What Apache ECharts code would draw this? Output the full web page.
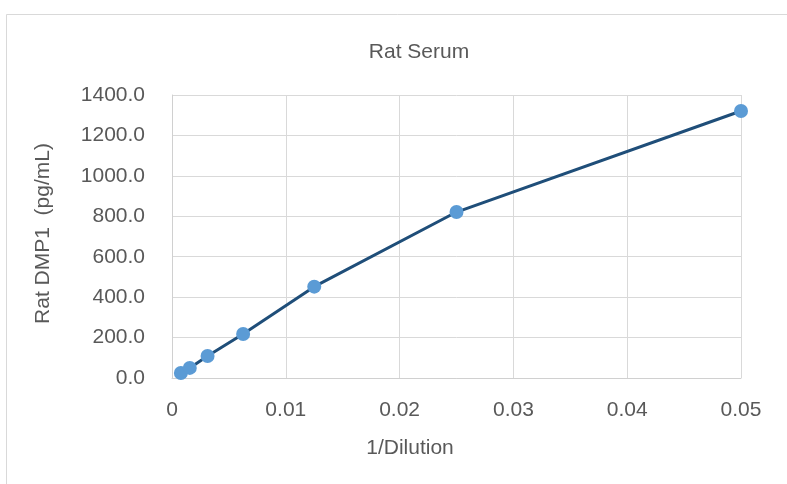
<!DOCTYPE html>
<html>
<head>
<meta charset="utf-8">
<script src="https://cdn.jsdelivr.net/npm/echarts@6/dist/echarts.min.js"></script>
<style>
html,body{margin:0;padding:0;background:#fff;}
#c{width:787px;height:484px;}
</style>
</head>
<body>
<div id="c"></div>
<script>
const dilutionX = [0.00078125, 0.0015625, 0.003125, 0.00625, 0.0125, 0.025, 0.05];
const dmp1Values = [25, 50, 109, 218, 452, 821, 1321];
const xTicks = [0, 0.01, 0.02, 0.03, 0.04, 0.05];
const yTicks = [0, 200, 400, 600, 800, 1000, 1200, 1400];

const FONT = 'Liberation Sans, Arial, sans-serif';
const chart = echarts.init(document.getElementById('c'), null, {renderer: 'canvas'});
chart.setOption({
  animation: false,
  backgroundColor: '#fff',
  title: [{
    text: 'Rat Serum',
    left: 414, top: 37,
    textAlign: 'center',
    textStyle: {fontFamily: FONT, fontSize: 21, fontWeight: 'normal', color: '#595959'}
  }, {
    text: '1/Dilution',
    left: 405, top: 433,
    textAlign: 'center',
    textStyle: {fontFamily: FONT, fontSize: 21, fontWeight: 'normal', color: '#595959'}
  }],
  graphic: [{
    type: 'rect', silent: true,
    shape: {x: 6.5, y: 14.5, width: 900, height: 600},
    style: {fill: 'none', stroke: '#d9d9d9', lineWidth: 1}
  }],
  grid: {left: 172, right: 46, top: 95, bottom: 106},
  xAxis: {
    type: 'value', min: 0, max: 0.05, interval: 0.01,
    axisLine: {show: true, lineStyle: {color: '#d0d0d0', width: 1}},
    axisTick: {show: false},
    axisLabel: {
      fontFamily: FONT, fontSize: 21, color: '#595959', margin: 22,
      formatter: v => xTicks.includes(+v.toFixed(2)) ? (v === 0 ? '0' : v.toFixed(2)) : ''
    },
    splitLine: {show: true, lineStyle: {color: '#d9d9d9', width: 1}}
  },
  yAxis: {
    type: 'value', min: 0, max: 1400, interval: 200,
    name: 'Rat DMP1  (pg/mL)', nameLocation: 'middle', nameGap: 118, nameRotate: 90,
    nameTextStyle: {fontFamily: FONT, fontSize: 21, color: '#595959', padding: [0, 0, 0, 6]},
    axisLine: {show: true, lineStyle: {color: '#d0d0d0', width: 1}},
    axisTick: {show: false},
    axisLabel: {
      fontFamily: FONT, fontSize: 21, color: '#595959', margin: 27,
      formatter: v => yTicks.includes(v) ? v.toFixed(1) : ''
    },
    splitLine: {show: true, lineStyle: {color: '#d9d9d9', width: 1}}
  },
  series: [{
    type: 'line',
    data: dilutionX.map((x, i) => [x, dmp1Values[i]]),
    smooth: false,
    symbol: 'circle', symbolSize: 14,
    lineStyle: {color: '#1F4E79', width: 3},
    itemStyle: {color: '#5B9BD5', borderWidth: 0},
    z: 3
  }]
});
</script>
</body>
</html>
